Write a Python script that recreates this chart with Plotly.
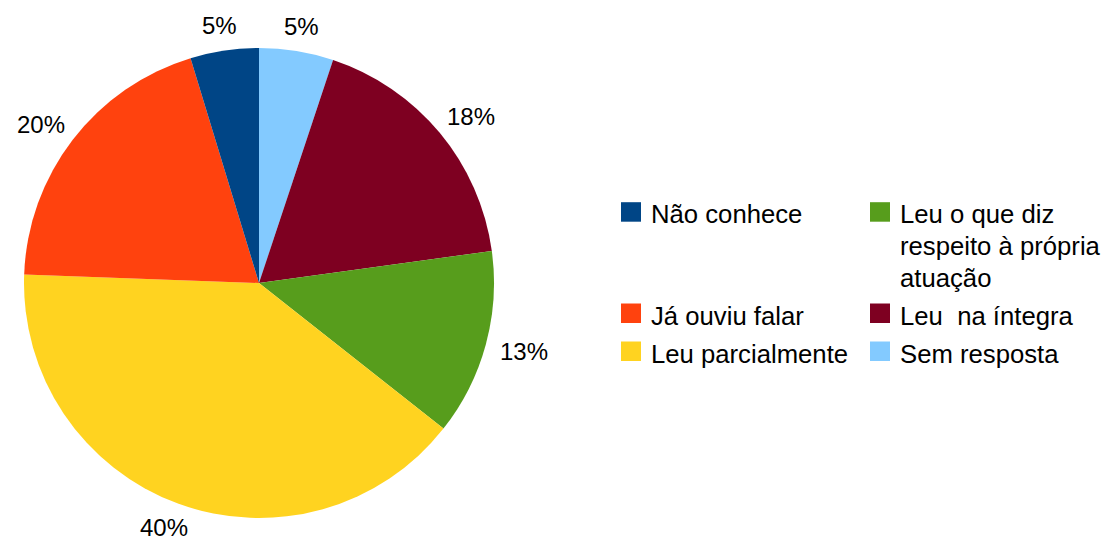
import math
import plotly.graph_objects as go

categories = ["Não conhece", "Já ouviu falar", "Leu parcialmente",
              "Leu o que diz respeito à própria atuação", "Leu  na íntegra", "Sem resposta"]
legend_lines = [["Não conhece"], ["Já ouviu falar"], ["Leu parcialmente"],
                ["Leu o que diz", "respeito à própria", "atuação"],
                ["Leu  na íntegra"], ["Sem resposta"]]
values = [4.7, 19.7, 39.9, 12.8, 17.7, 5.1]
colors = ["#004586", "#ff420e", "#ffd320", "#579d1c", "#7e0021", "#83caff"]

W, H = 1108, 542
FONT = "Liberation Sans, Arial, sans-serif"


def px(x):
    return x / W


def py(y):
    return 1 - y / H


# pie geometry (pixels)
CX, CY, R = 259, 283, 235

# slices run counter-clockwise from 12 o'clock in data order -> draw clockwise reversed
fig = go.Figure(go.Pie(
    labels=categories[::-1], values=values[::-1], sort=False, direction="clockwise",
    rotation=0, marker=dict(colors=colors[::-1], line=dict(width=0)),
    textinfo="none",
    domain=dict(x=[px(CX - R), px(CX + R)], y=[py(CY + R), py(CY - R)]),
    showlegend=False, hoverinfo="label+percent",
))

annotations, shapes = [], []

# percentage labels placed outside each slice along its mid angle
total = sum(values)
cum = 0.0
GAP = 16
for v in values:
    mid = (cum + v / 2) / total * 2 * math.pi  # counter-clockwise from top
    cum += v
    ux, uy = -math.sin(mid), -math.cos(mid)
    pct = f"{round(v / total * 100)}%"
    hw = 0.5 * 24 * (0.556 * (len(pct) - 1) + 0.889)
    lx = CX + ux * (R + GAP) + ux * hw
    ly = CY + uy * (R + GAP) + uy * 9
    annotations.append(dict(xref="paper", yref="paper", x=px(lx), y=py(ly),
                            xanchor="center", yanchor="middle", text=pct,
                            showarrow=False,
                            font=dict(family=FONT, size=24, color="#000000")))

# manual two-column legend (row-major order as in the reference)
col_x = [621, 870]
row_cap_center = [214.7, 316, 354]
LINE = 32
for i, (lines, col) in enumerate(zip(legend_lines, colors)):
    c = 0 if i < 3 else 1
    r = i % 3
    x0 = col_x[c]
    yc = row_cap_center[r]
    shapes.append(dict(type="rect", xref="paper", yref="paper",
                       x0=px(x0), x1=px(x0 + 20), y0=py(yc + 7), y1=py(yc - 12.5),
                       fillcolor=col, line=dict(width=0)))
    for k, t in enumerate(lines):
        annotations.append(dict(xref="paper", yref="paper", x=px(x0 + 28),
                                y=py(yc + k * LINE - 16.4), xanchor="left", yanchor="top",
                                text=t, showarrow=False, align="left",
                                font=dict(family=FONT, size=25.7, color="#000000")))

fig.update_layout(
    width=W, height=H, margin=dict(l=0, r=0, t=0, b=0),
    paper_bgcolor="white", plot_bgcolor="white",
    shapes=shapes, annotations=annotations,
)
fig.write_html("out.html", config={"displayModeBar": False},
               post_script="document.body.style.margin='0';")
